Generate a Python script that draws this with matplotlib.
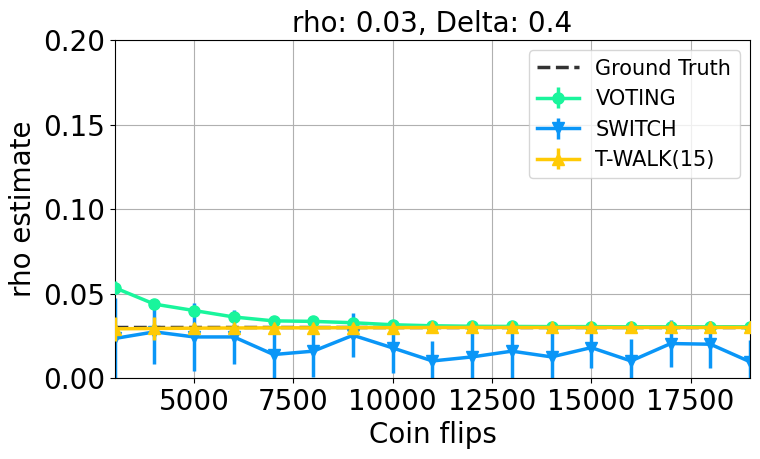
import numpy as np
import matplotlib.pyplot as plt

flips = np.arange(3000, 20000, 1000)
truth = 0.03

voting = [0.0535, 0.0438, 0.0400, 0.0362, 0.0339, 0.0336, 0.0328, 0.0316, 0.0310, 0.0307,
          0.0306, 0.0305, 0.0305, 0.0304, 0.0304, 0.0304, 0.0304]
voting_err = [0.004, 0.003, 0.003, 0.003, 0.002, 0.002, 0.002, 0.002, 0.002, 0.002,
              0.002, 0.002, 0.002, 0.002, 0.002, 0.002, 0.002]

switch = [0.0235, 0.0274, 0.0244, 0.0244, 0.0140, 0.0160, 0.0254, 0.0179, 0.0102, 0.0126,
          0.0160, 0.0126, 0.0181, 0.0102, 0.0205, 0.0201, 0.0097]
switch_err = [0.024, 0.019, 0.020, 0.016, 0.016, 0.015, 0.013, 0.015, 0.012, 0.015,
              0.016, 0.015, 0.012, 0.013, 0.014, 0.014, 0.013]

twalk = [0.0292, 0.0294, 0.0296, 0.0297, 0.0298, 0.0298, 0.0299, 0.0299, 0.0300, 0.0300,
         0.0300, 0.0300, 0.0300, 0.0300, 0.0300, 0.0300, 0.0300]
twalk_err = [0.007, 0.007, 0.003, 0.002, 0.002, 0.002, 0.002, 0.002, 0.002, 0.002,
             0.002, 0.002, 0.002, 0.002, 0.002, 0.002, 0.002]

fig = plt.figure(figsize=(7.6, 4.59), dpi=100)
ax = fig.add_axes([0.151, 0.176, 0.836, 0.737])

ax.plot(flips, [truth] * len(flips), "--", color="#333333", lw=2.5, label="Ground Truth", zorder=3)
ax.errorbar(flips, voting, yerr=voting_err, color="#19f59c", marker="o", ms=8, lw=2.5,
            elinewidth=2.5, label="VOTING", zorder=4)
ax.errorbar(flips, switch, yerr=switch_err, color="#0a96f7", marker="v", ms=8, lw=2.5,
            elinewidth=2.5, label="SWITCH", zorder=2)
ax.errorbar(flips, twalk, yerr=twalk_err, color="#ffca05", marker="^", ms=8, lw=2.5,
            elinewidth=2.5, label="T-WALK(15)", zorder=5)

ax.set_xlim(3000, 19000)
ax.set_ylim(0, 0.2)
ax.set_xticks([5000, 7500, 10000, 12500, 15000, 17500])
ax.set_yticks([0.0, 0.05, 0.10, 0.15, 0.20])
ax.set_yticklabels(["0.00", "0.05", "0.10", "0.15", "0.20"])
ax.tick_params(labelsize=20)
ax.grid(True)
ax.set_xlabel("Coin flips", fontsize=20)
ax.set_ylabel("rho estimate", fontsize=20)
ax.set_title("rho: 0.03, Delta: 0.4", fontsize=20)
ax.legend(loc="upper right", fontsize=15)

fig.savefig("out.png", dpi=100)
